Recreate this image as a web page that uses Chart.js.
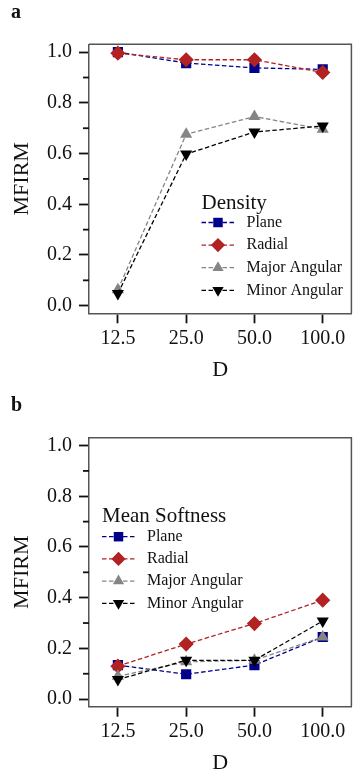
<!DOCTYPE html>
<html>
<head>
<meta charset="utf-8">
<script src="https://cdn.jsdelivr.net/npm/chart.js@4.4.1/dist/chart.umd.min.js"></script>
<style>
  body { margin: 0; background: #fff; }
  #wrap { position: relative; width: 359px; height: 782px; }
  .panel { position: absolute; left: 0; width: 359px; height: 391px; }
  .tag { position: absolute; left: 11px; font: bold 20px/20px "Liberation Serif", serif; color: #111; }
</style>
</head>
<body>
<div id="wrap">
  <div class="panel" style="top:0"><canvas id="density" width="359" height="391"></canvas></div>
  <div class="panel" style="top:391px"><canvas id="softness" width="359" height="391"></canvas></div>
  <span class="tag" style="top:1px">a</span>
  <span class="tag" style="top:394px">b</span>
</div>
<script>
// Two MFIRM-vs-D panels: (a) Density, (b) Mean Softness.

const D_LABELS = ['12.5', '25.0', '50.0', '100.0'];
const SERIES = ['Plane', 'Radial', 'Major Angular', 'Minor Angular'];
const Y_TICKS = [0, 0.2, 0.4, 0.6, 0.8, 1.0];
const Y_MINOR = [0.1, 0.3, 0.5, 0.7, 0.9];

const densityPlane = [1.0, 0.957, 0.938, 0.932];
const densityRadial = [0.996, 0.970, 0.970, 0.920];
const densityMajor = [0.063, 0.676, 0.746, 0.696];
const densityMinor = [0.048, 0.598, 0.685, 0.709];

const softPlane = [0.134, 0.098, 0.134, 0.245];
const softRadial = [0.130, 0.217, 0.298, 0.390];
const softMajor = [0.090, 0.147, 0.153, 0.245];
const softMinor = [0.077, 0.153, 0.153, 0.308];

const FONT = '"Liberation Serif", "Times New Roman", serif';
const INK = '#111';
const STYLE = [
  { color: '#00008b', point: 'rect', radius: 7.2, rot: 0 },
  { color: '#b22222', point: 'rectRot', radius: 7.6, rot: 0 },
  { color: '#858585', point: 'triangle', radius: 7, rot: 0 },
  { color: '#000000', point: 'triangle', radius: 7, rot: 180 },
];

function series(i, values) {
  const s = STYLE[i];
  return {
    label: SERIES[i],
    data: values.map((v, k) => ({ x: k, y: v })),
    borderColor: s.color,
    backgroundColor: s.color,
    pointBackgroundColor: s.color,
    pointBorderColor: s.color,
    pointBorderWidth: 0,
    borderWidth: 1.3,
    borderDash: [4.5, 2.5],
    pointStyle: s.point,
    pointRadius: s.radius,
    pointRotation: s.rot,
    order: 3 - i, // later series drawn on top
  };
}

// top/right box edges and the short minor ticks on y
const frame = {
  id: 'frame',
  afterDraw(chart) {
    const { ctx, chartArea: a, scales: { y } } = chart;
    ctx.save();
    ctx.strokeStyle = '#555';
    ctx.lineWidth = 1.5;
    ctx.beginPath();
    ctx.moveTo(a.left, a.top);
    ctx.lineTo(a.right, a.top);
    ctx.lineTo(a.right, a.bottom);
    ctx.stroke();
    ctx.strokeStyle = INK;
    ctx.lineWidth = 1.8;
    Y_MINOR.forEach((v) => {
      const py = y.getPixelForValue(v);
      ctx.beginPath();
      ctx.moveTo(a.left - 6, py);
      ctx.lineTo(a.left, py);
      ctx.stroke();
    });
    ctx.restore();
  },
};

// legend with a title, drawn inside the plot
const boxLegend = {
  id: 'boxLegend',
  afterDatasetsDraw(chart, args, o) {
    const ctx = chart.ctx;
    ctx.save();
    ctx.textBaseline = 'middle';
    ctx.textAlign = 'left';
    ctx.fillStyle = INK;
    ctx.font = '21px ' + FONT;
    ctx.fillText(o.title, o.x, o.titleY);
    ctx.font = '16px ' + FONT;
    chart.data.datasets.forEach((ds, i) => {
      const y = o.y + i * o.step;
      ctx.strokeStyle = ds.borderColor;
      ctx.lineWidth = ds.borderWidth;
      ctx.setLineDash(ds.borderDash);
      ctx.beginPath();
      ctx.moveTo(o.x, y);
      ctx.lineTo(o.x + 33, y);
      ctx.stroke();
      ctx.setLineDash([]);
      ctx.fillStyle = ds.pointBackgroundColor;
      Chart.helpers.drawPoint(ctx, {
        pointStyle: ds.pointStyle, radius: ds.pointRadius - 0.5,
        rotation: ds.pointRotation, borderWidth: 0,
      }, o.x + 16.5, y);
      ctx.fillStyle = INK;
      ctx.fillText(ds.label, o.x + 45, y);
    });
    ctx.restore();
  },
};

function makeChart(id, sets, legend, top, xTitlePad) {
  const bottom = 391 - (top + 269);
  return new Chart(document.getElementById(id), {
    type: 'line',
    data: { datasets: sets },
    plugins: [frame, boxLegend],
    options: {
      responsive: false,
      animation: false,
      layout: { padding: { top, right: 1.3, bottom: 0, left: 0 } },
      plugins: { legend: { display: false }, tooltip: { enabled: false }, boxLegend: legend },
      scales: {
        x: {
          type: 'linear', min: -0.423, max: 3.42,
          afterBuildTicks: (s) => { s.ticks = D_LABELS.map((_, k) => ({ value: k })); },
          afterFit: (s) => { s.height = bottom; },
          ticks: { callback: (v) => D_LABELS[v], font: { family: FONT, size: 20 }, color: INK,
            padding: 3, maxRotation: 0, autoSkip: false },
          grid: { drawOnChartArea: false, tickLength: 10, tickColor: INK, tickWidth: 1.8 },
          border: { color: '#555', width: 1.5 },
          title: { display: true, text: 'D', font: { family: FONT, size: 22 }, color: INK,
            padding: { top: 0, bottom: xTitlePad } },
        },
        y: {
          min: -0.03, max: 1.031,
          afterBuildTicks: (s) => { s.ticks = Y_TICKS.map((v) => ({ value: v })); },
          afterFit: (s) => { s.width = 89; },
          ticks: { callback: (v) => v.toFixed(1), font: { family: FONT, size: 20 }, color: INK, padding: 7 },
          grid: { drawOnChartArea: false, tickLength: 10, tickColor: INK, tickWidth: 1.8 },
          border: { color: '#555', width: 1.5 },
          title: { display: true, text: 'MFIRM', font: { family: FONT, size: 22 }, color: INK,
            padding: { top: 9, bottom: 0 } },
        },
      },
    },
  });
}

makeChart('density', [
  series(0, densityPlane), series(1, densityRadial),
  series(2, densityMajor), series(3, densityMinor),
], { title: 'Density', x: 201.5, titleY: 203, y: 222.5, step: 22.6 }, 44.3, 8);

makeChart('softness', [
  series(0, softPlane), series(1, softRadial),
  series(2, softMajor), series(3, softMinor),
], { title: 'Mean Softness', x: 102, titleY: 125.7, y: 145.7, step: 22.2 }, 46.7, 5.7);
</script>
</body>
</html>
